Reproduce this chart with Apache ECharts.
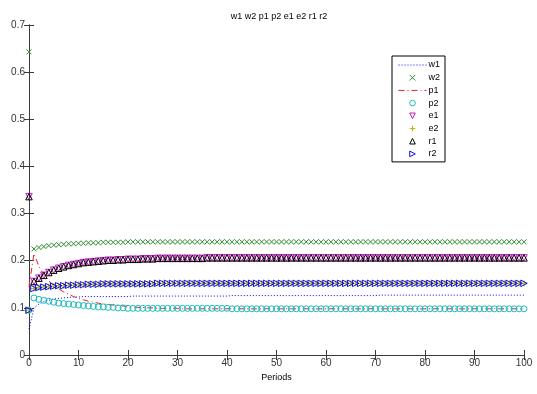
<!DOCTYPE html>
<html>
<head>
<meta charset="utf-8">
<script src="https://cdn.jsdelivr.net/npm/echarts@6/dist/echarts.min.js"></script>
<style>
html,body{margin:0;padding:0;background:#fff;}
#chart{width:537px;height:394px;}
</style>
</head>
<body>
<div id="chart"></div>
<script>
const periods = [0,1,2,3,4,5,6,7,8,9,10,11,12,13,14,15,16,17,18,19,20,21,22,23,24,25,26,27,28,29,30,31,32,33,34,35,36,37,38,39,40,41,42,43,44,45,46,47,48,49,50,51,52,53,54,55,56,57,58,59,60,61,62,63,64,65,66,67,68,69,70,71,72,73,74,75,76,77,78,79,80,81,82,83,84,85,86,87,88,89,90,91,92,93,94,95,96,97,98,99,100];

const w1 = [0.055,0.100,0.108,0.113,0.116,0.119,0.120,0.121,0.122,0.123,0.123,
0.124,0.124,0.124,0.124,0.124,0.124,0.124,0.124,0.124,0.124,
0.125,0.125,0.125,0.125,0.125,0.125,0.125,0.125,0.125,0.125,0.125,0.125,0.125,0.125,0.125,0.125,0.125,0.125,0.125,0.125,
0.126,0.126,0.126,0.126,0.126,0.126,0.126,0.126,0.126,0.126,0.126,0.126,0.126,0.126,0.126,0.126,0.126,0.126,0.126,0.126,0.126,0.126,0.126,0.126,0.126,0.126,0.126,0.126,0.126,0.126,
0.127,0.127,0.127,0.127,0.127,0.127,0.127,0.127,0.127,0.127,0.127,0.127,0.127,0.127,0.127,0.127,0.127,0.127,0.127,0.127,0.127,0.127,0.127,0.127,0.127,0.127,0.127,0.127,0.127,0.127];

const w2 = [0.643,0.225,0.228,0.230,0.232,0.233,0.234,0.235,0.236,0.236,0.237,0.237,0.238,0.238,0.238,0.239,0.239,0.239,0.239,0.239,
0.240,0.240,0.240,0.240,0.240,0.240,0.240,0.240,0.240,0.240,0.240,0.240,0.240,0.240,0.240,0.240,0.240,0.240,0.240,0.240,
0.240,0.240,0.240,0.240,0.240,0.240,0.240,0.240,0.240,0.240,0.240,0.240,0.240,0.240,0.240,0.240,0.240,0.240,0.240,0.240,
0.240,0.240,0.240,0.240,0.240,0.240,0.240,0.240,0.240,0.240,0.240,0.240,0.240,0.240,0.240,0.240,0.240,0.240,0.240,0.240,
0.240,0.240,0.240,0.240,0.240,0.240,0.240,0.240,0.240,0.240,0.240,0.240,0.240,0.240,0.240,0.240,0.240,0.240,0.240,0.240,0.240];

const p1 = [0.145,0.215,0.188,0.170,0.157,0.147,0.140,0.134,0.129,0.124,0.120,0.117,0.114,0.112,0.110,0.108,0.107,0.106,0.105,0.104,0.103,0.102,0.101,0.101,0.100,0.100,
0.099,0.099,0.099,0.099,0.099,
0.098,0.098,0.098,0.098,0.098,0.098,0.098,0.098,0.098,0.098,0.098,0.098,0.098,0.098,0.098,0.098,0.098,0.098,0.098,0.098,
0.098,0.098,0.098,0.098,0.098,0.098,0.098,0.098,0.098,0.098,0.098,0.098,0.098,0.098,0.098,0.098,0.098,0.098,0.098,0.098,
0.098,0.098,0.098,0.098,0.098,0.098,0.098,0.098,0.098,0.098,0.098,0.098,0.098,0.098,0.098,0.098,0.098,0.098,0.098,0.098,
0.098,0.098,0.098,0.098,0.098,0.098,0.098,0.098,0.098,0.098];

const p2 = [0.095,0.121,0.118,0.116,0.114,0.112,0.110,0.109,0.108,0.107,0.106,0.105,0.104,0.103,0.102,0.102,0.101,0.101,0.100,0.100,
0.099,0.099,0.099,0.099,0.099,0.099,0.099,0.099,0.099,0.099,0.099,0.099,0.099,0.099,0.099,0.099,0.099,0.099,0.099,0.099,0.099,
0.098,0.098,0.098,0.098,0.098,0.098,0.098,0.098,0.098,0.098,0.098,0.098,0.098,0.098,0.098,0.098,0.098,0.098,0.098,0.098,
0.098,0.098,0.098,0.098,0.098,0.098,0.098,0.098,0.098,0.098,0.098,0.098,0.098,0.098,0.098,0.098,0.098,0.098,0.098,0.098,
0.098,0.098,0.098,0.098,0.098,0.098,0.098,0.098,0.098,0.098,0.098,0.098,0.098,0.098,0.098,0.098,0.098,0.098,0.098,0.098];

const e1 = [0.336,0.156,0.163,0.169,0.175,0.180,0.184,0.187,0.190,0.192,0.194,0.196,0.197,0.198,0.199,0.200,0.201,0.201,0.202,0.202,0.203,0.203,0.203,0.204,0.204,0.204,
0.205,0.205,0.205,0.205,0.205,0.205,0.205,0.205,0.205,0.205,
0.206,0.206,0.206,0.206,0.206,0.206,0.206,0.206,0.206,0.206,0.206,0.206,0.206,0.206,0.206,0.206,0.206,0.206,0.206,0.206,
0.206,0.206,0.206,0.206,0.206,0.206,0.206,0.206,0.206,0.206,0.206,0.206,0.206,0.206,0.206,0.206,0.206,0.206,0.206,0.206,
0.206,0.206,0.206,0.206,0.206,0.206,0.206,0.206,0.206,0.206,0.206,0.206,0.206,0.206,0.206,0.206,0.206,0.206,0.206,0.206,
0.206,0.206,0.206,0.206,0.206];

const e2 = [0.095,0.141,0.143,0.144,0.145,0.146,0.147,0.147,0.148,0.148,0.149,0.149,0.150,0.150,0.150,0.151,
0.151,0.151,0.151,0.151,0.151,0.151,0.151,0.151,0.151,0.151,
0.152,0.152,0.152,0.152,0.152,0.152,0.152,0.152,0.152,0.152,0.152,0.152,0.152,0.152,0.152,0.152,0.152,0.152,0.152,0.152,
0.152,0.152,0.152,0.152,0.152,0.152,0.152,0.152,0.152,0.152,0.152,0.152,0.152,0.152,0.152,0.152,0.152,0.152,0.152,0.152,
0.152,0.152,0.152,0.152,0.152,0.152,0.152,0.152,0.152,0.152,0.152,0.152,0.152,0.152,0.152,0.152,0.152,0.152,0.152,0.152,
0.152,0.152,0.152,0.152,0.152,0.152,0.152,0.152,0.152,0.152,0.152,0.152,0.152,0.152,0.152];

const r1 = [0.336,0.156,0.163,0.169,0.175,0.180,0.184,0.187,0.190,0.192,0.194,0.196,0.197,0.198,0.199,0.200,0.201,0.201,0.202,0.202,0.203,0.203,0.203,0.204,0.204,0.204,
0.205,0.205,0.205,0.205,0.205,0.205,0.205,0.205,0.205,0.205,
0.206,0.206,0.206,0.206,0.206,0.206,0.206,0.206,0.206,0.206,0.206,0.206,0.206,0.206,0.206,0.206,0.206,0.206,0.206,0.206,
0.206,0.206,0.206,0.206,0.206,0.206,0.206,0.206,0.206,0.206,0.206,0.206,0.206,0.206,0.206,0.206,0.206,0.206,0.206,0.206,
0.206,0.206,0.206,0.206,0.206,0.206,0.206,0.206,0.206,0.206,0.206,0.206,0.206,0.206,0.206,0.206,0.206,0.206,0.206,0.206,
0.206,0.206,0.206,0.206,0.206];

const r2 = [0.095,0.141,0.143,0.144,0.145,0.146,0.147,0.147,0.148,0.148,0.149,0.149,0.150,0.150,0.150,0.151,
0.151,0.151,0.151,0.151,0.151,0.151,0.151,0.151,0.151,0.151,
0.152,0.152,0.152,0.152,0.152,0.152,0.152,0.152,0.152,0.152,0.152,0.152,0.152,0.152,0.152,0.152,0.152,0.152,0.152,0.152,
0.152,0.152,0.152,0.152,0.152,0.152,0.152,0.152,0.152,0.152,0.152,0.152,0.152,0.152,0.152,0.152,0.152,0.152,0.152,0.152,
0.152,0.152,0.152,0.152,0.152,0.152,0.152,0.152,0.152,0.152,0.152,0.152,0.152,0.152,0.152,0.152,0.152,0.152,0.152,0.152,
0.152,0.152,0.152,0.152,0.152,0.152,0.152,0.152,0.152,0.152,0.152,0.152,0.152,0.152,0.152];

const seriesNames = ['w1','w2','p1','p2','e1','e2','r1','r2'];
const titleText = 'w1 w2 p1 p2 e1 e2 r1 r2';
const xName = 'Periods';

const FONT = '"Liberation Sans", Arial, sans-serif';
const AX = '#3a3a3a';

const COL = {w1:'#0000ff', w2:'#2f8f2f', p1:'#e8202a', p2:'#1cbcbc', e1:'#c020c0', e2:'#b8b800', r1:'#000000', r2:'#1010e0'};

function pts(arr){ return periods.map((t,i)=>[t, arr[i]]); }

const SYM_X = 'path://M0,0L10,10M0,10L10,0';
const SYM_PLUS = 'path://M5,0L5,10M0,5L10,5';
const SYM_DOWN = 'path://M0,1L10,1L5,10Z';
const SYM_UP = 'path://M5,0L10,9L0,9Z';
const SYM_RIGHT = 'path://M1,0L10,5L1,10Z';

function markerSeries(name, data, symbol, size){
  return {
    name, type:'line', data: pts(data), xAxisIndex:0, yAxisIndex:0,
    symbol, symbolSize:size, showSymbol:true, showAllSymbol:true,
    lineStyle:{width:0, opacity:0},
    itemStyle:{color:'rgba(0,0,0,0)', borderColor:COL[name], borderWidth:1},
    emphasis:{disabled:true}, silent:true, animation:false
  };
}

const legendData = seriesNames.map(n => {
  if (n === 'w1') {
    return {name:n, itemStyle:{color:'rgba(0,0,0,0)', borderWidth:0, opacity:0},
            lineStyle:{color:COL.w1, width:1, type:[1,2]}};
  }
  if (n === 'p1') {
    return {name:n, itemStyle:{color:'rgba(0,0,0,0)', borderWidth:0, opacity:0},
            lineStyle:{color:COL.p1, width:1, type:[6,3,1,3]}};
  }
  return {name:n, itemStyle:{color:'rgba(0,0,0,0)', borderColor:COL[n], borderWidth:1}};
});

const chart = echarts.init(document.getElementById('chart'), null, {renderer:'canvas'});
chart.setOption({
  animation:false,
  backgroundColor:'#ffffff',
  title:{
    text:titleText, left:274, top:7, textAlign:'center',
    textStyle:{fontFamily:FONT, fontSize:9, fontWeight:'normal', color:'#000'}
  },
  legend:{
    data:legendData,
    orient:'vertical', left:392, top:56,
    padding:[4,5,3,6],
    itemWidth:28, itemHeight:7, itemGap:2.7,
    borderColor:'#000', borderWidth:1,
    backgroundColor:'#fff',
    textStyle:{fontFamily:FONT, fontSize:9, color:'#000', lineHeight:10, padding:[0,0,0,-3]},
    selectedMode:false
  },
  grid:{left:29, right:13, top:25, bottom:39},
  xAxis:[{
    type:'value', min:0, max:100, interval:10,
    name:xName, nameLocation:'middle', nameGap:9,
    nameTextStyle:{fontFamily:FONT, fontSize:9, color:'#000'},
    axisLine:{show:true, lineStyle:{color:AX, width:1}},
    axisTick:{show:true, inside:true, length:5, lineStyle:{color:AX}},
    axisLabel:{fontFamily:FONT, fontSize:10, color:'#333', margin:3},
    splitLine:{show:false}
  },{
    type:'value', min:0, max:100, interval:10, position:'top',
    axisLine:{show:true, lineStyle:{color:AX, width:1}},
    axisTick:{show:true, inside:true, length:5, lineStyle:{color:AX}},
    axisLabel:{show:false}, splitLine:{show:false}
  }],
  yAxis:[{
    type:'value', min:0, max:0.7, interval:0.1,
    axisLine:{show:true, lineStyle:{color:AX, width:1}},
    axisTick:{show:true, inside:true, length:5, lineStyle:{color:AX}},
    axisLabel:{fontFamily:FONT, fontSize:10, color:'#333', margin:4},
    splitLine:{show:false}
  },{
    type:'value', min:0, max:0.7, interval:0.1, position:'right',
    axisLine:{show:true, lineStyle:{color:AX, width:1}},
    axisTick:{show:true, inside:true, length:5, lineStyle:{color:AX}},
    axisLabel:{show:false}, splitLine:{show:false}
  }],
  series:[
    {name:'w1', type:'line', data:pts(w1), symbol:'none',
     lineStyle:{color:COL.w1, width:1, type:[1,2]}, itemStyle:{color:COL.w1},
     emphasis:{disabled:true}, silent:true},
    markerSeries('w2', w2, SYM_X, 5),
    {name:'p1', type:'line', data:pts(p1), symbol:'none',
     lineStyle:{color:COL.p1, width:1, type:[6,3,1,3]}, itemStyle:{color:COL.p1},
     emphasis:{disabled:true}, silent:true},
    markerSeries('p2', p2, 'circle', 6),
    markerSeries('e1', e1, SYM_DOWN, 6.5),
    markerSeries('e2', e2, SYM_PLUS, 6),
    markerSeries('r1', r1, SYM_UP, 6.5),
    markerSeries('r2', r2, SYM_RIGHT, 6.5)
  ]
});
</script>
</body>
</html>
